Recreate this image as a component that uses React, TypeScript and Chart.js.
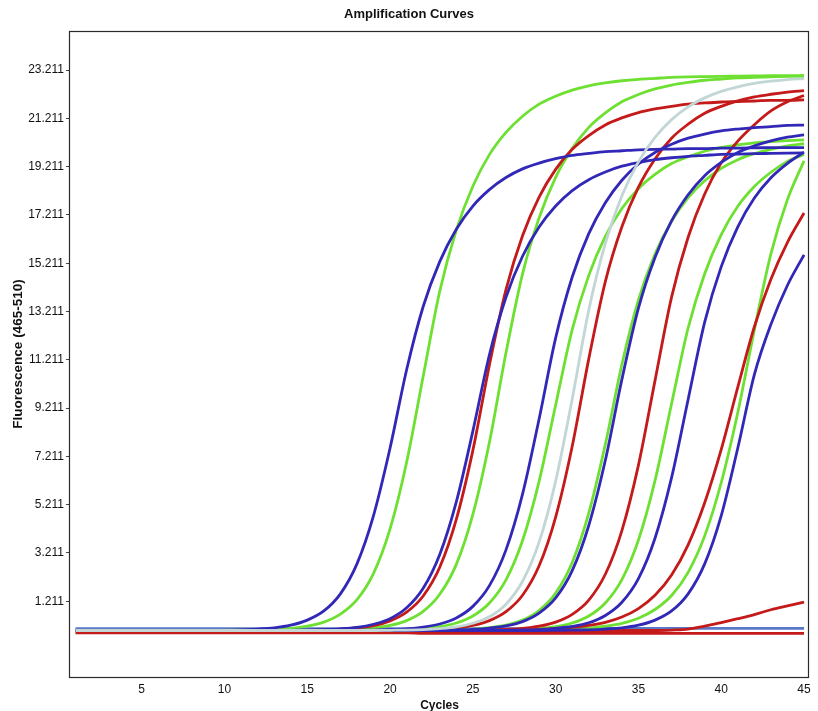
import React, { useEffect, useRef } from 'react';
import { Chart, registerables } from 'chart.js';

Chart.register(...registerables);

// Cycles 1..45
const cycles = [1,2,3,4,5,6,7,8,9,10,11,12,13,14,15,16,17,18,19,20,21,22,23,24,25,26,27,28,29,30,31,32,33,34,35,36,37,38,39,40,41,42,43,44,45];

const xTicks = [5, 10, 15, 20, 25, 30, 35, 40, 45];
const yTicks = [1.211, 3.211, 5.211, 7.211, 9.211, 11.211, 13.211, 15.211, 17.211, 19.211, 21.211, 23.211];

const X_MIN = 0.67;
const X_MAX = 45.3;
const Y_MIN = -1.925;
const Y_MAX = 24.83;

// Fluorescence series (one value per cycle)
const blue1 = [0,0,0,0,0,0,0,0,0,0.01, 0.03,0.06,0.11,0.22,0.43,0.81,1.52,2.76,4.76,7.56, 10.8,13.42,15.28,16.62,17.58,18.26,18.76,19.12,19.36,19.54, 19.68,19.76,19.83,19.87,19.91,19.93,19.94,19.96,19.96,19.98, 19.98,19.99,20.0,20.0,20.0];
const green1 = [0,0,0,0,0,0,0,0,0,0.01, 0.02,0.03,0.05,0.09,0.18,0.35,0.68,1.28,2.37,4.21, 6.97,10.53,14.05,16.58,18.4,19.71,20.63,21.3,21.8,22.13, 22.38,22.56,22.68,22.77,22.83,22.87,22.91,22.93,22.94,22.95, 22.96,22.97,22.98,22.98,22.99];
const blue2 = [0,0,0,0,0,0,0,0,0,0, 0,0,0,0.01,0.02,0.04,0.07,0.13,0.26,0.49, 0.94,1.75,3.15,5.33,8.26,11.42,13.8,15.5,16.71,17.58, 18.22,18.67,18.99,19.23,19.38,19.5,19.58,19.64,19.68,19.72, 19.73,19.75,19.76,19.77,19.78];
const red1 = [0,0,0,0,0,0,0,0,0,0, 0,0,0,0,0.01,0.03,0.06,0.11,0.2,0.4, 0.76,1.43,2.62,4.6,7.46,11.0,14.12,16.35,17.95,19.1, 19.93,20.5,20.94,21.23,21.45,21.6,21.71,21.8,21.85,21.89, 21.91,21.93,21.96,21.96,21.98];
const green2 = [0,0,0,0,0,0,0,0,0,0, 0,0,0,0,0,0.01,0.03,0.06,0.11,0.21, 0.41,0.79,1.5,2.74,4.81,7.8,11.5,14.77,17.09,18.77, 19.96,20.84,21.44,21.9,22.2,22.43,22.59,22.7,22.79,22.84, 22.89,22.91,22.93,22.95,22.95];
const blue3 = [0,0,0,0,0,0,0,0,0,0, 0,0,0,0,0,0,0,0.01,0.02,0.04, 0.07,0.14,0.27,0.52,1.0,1.86,3.34,5.65,8.76,12.12, 14.64,16.44,17.72,18.65,19.32,19.8,20.14,20.39,20.56,20.69, 20.77,20.83,20.87,20.92,20.93];
const green3 = [0,0,0,0,0,0,0,0,0,0, 0,0,0,0,0,0,0,0,0.01,0.02, 0.04,0.08,0.16,0.31,0.6,1.14,2.1,3.73,6.18,9.34, 12.46,14.71,16.32,17.48,18.3,18.89,19.34,19.62,19.85,20.01, 20.11,20.2,20.25,20.29,20.32];
const gray1 = [0,0,0,0,0,0,0,0,0,0, 0,0,0,0,0,0,0,0,0,0.01, 0.02,0.04,0.08,0.15,0.3,0.57,1.09,2.04,3.66,6.19, 9.59,13.27,16.03,18.01,19.41,20.42,21.16,21.69,22.06,22.33, 22.52,22.66,22.75,22.82,22.86];
const red2 = [0,0,0,0,0,0,0,0,0,0, 0,0,0,0,0,0,0,0,0,0, 0.01,0.03,0.06,0.11,0.21,0.41,0.78,1.46,2.68,4.7, 7.63,11.25,14.45,16.72,18.36,19.53,20.39,20.97,21.42,21.71, 21.94,22.1,22.21,22.3,22.36];
const green4 = [0,0,0,0,0,0,0,0,0,0, 0,0,0,0,0,0,0,0,0,0, 0,0.01,0.02,0.03,0.06,0.12,0.22,0.43,0.83,1.55, 2.82,4.86,7.71,11.02,13.69,15.59,16.95,17.93,18.63,19.14, 19.5,19.75,19.93,20.07,20.16];
const blue4 = [0,0,0,0,0,0,0,0,0,0, 0,0,0,0,0,0,0,0,0,0, 0,0,0.01,0.03,0.05,0.1,0.19,0.37,0.72,1.35, 2.48,4.35,7.05,10.4,13.35,15.45,16.97,18.05,18.84,19.39, 19.8,20.07,20.28,20.43,20.53];
const red3 = [0,0,0,0,0,0,0,0,0,0, 0,0,0,0,0,0,0,0,0,0, 0,0,0,0,0.01,0.02,0.05,0.09,0.18,0.35, 0.67,1.26,2.33,4.14,6.85,10.35,13.81,16.29,18.08,19.37, 20.27,20.95,21.52,21.9,22.16];
const green5 = [0,0,0,0,0,0,0,0,0,0, 0,0,0,0,0,0,0,0,0,0, 0,0,0,0,0,0.01,0.02,0.04,0.08,0.16, 0.31,0.6,1.14,2.11,3.75,6.21,9.39,12.53,14.78,16.4, 17.57,18.39,18.98,19.43,19.72];
const blue5 = [0,0,0,0,0,0,0,0,0,0, 0,0,0,0,0,0,0,0,0,0, 0,0,0,0,0,0,0.01,0.02,0.04,0.09, 0.17,0.32,0.62,1.17,2.15,3.82,6.33,9.57,12.77,15.07, 16.72,17.91,18.75,19.35,19.81];
const red4 = [0,0,0,0,0,0,0,0,0,0, 0,0,0,0,0,0,0,0,0,0, 0,0,0,0,0,0.01,0.02,0.03,0.05,0.08, 0.13,0.21,0.34,0.56,0.91,1.46,2.3,3.55,5.29,7.5, 10.08,12.58,14.55,16.08,17.29];
const green6 = [0,0,0,0,0,0,0,0,0,0, 0,0,0,0,0,0,0,0,0,0, 0,0,0,0,0,0,0,0,0.02,0.03, 0.06,0.1,0.18,0.3,0.51,0.87,1.45,2.41,3.92,6.13, 9.03,12.45,15.6,17.85,19.45];
const blue6 = [0,0,0,0,0,0,0,0,0,0, 0,0,0,0,0,0,0,0,0,0, 0,0,0,0,0,0,0,0,0,0.01, 0.02,0.03,0.06,0.11,0.22,0.43,0.81,1.52,2.76,4.76, 7.56,10.6,12.68,14.3,15.56];
const red5 = [0,0,0,0,0,0,0,0,0,0, 0,0,0,0,0,0,0,0,0,0, 0,0,0,0,0,0,0,0,0,0, 0,0,0,0,0,0, 0.02,0.06,0.18,0.33,0.49,0.66,0.86,1.02,1.18];
const ncRed = [-0.1,-0.1,-0.1,-0.1,-0.1,-0.1,-0.1,-0.1,-0.1,-0.1, -0.1,-0.1,-0.1,-0.1,-0.1,-0.1,-0.1,-0.1,-0.1,-0.1, -0.1,-0.12,-0.12,-0.12,-0.12,-0.12,-0.12,-0.12,-0.12,-0.12, -0.12,-0.12,-0.12,-0.12,-0.12,-0.12,-0.12,-0.12,-0.12,-0.12, -0.12,-0.12,-0.12,-0.12,-0.12];
const ncBlue = [0.08,0.08,0.08,0.08,0.08,0.08,0.08,0.08,0.08,0.08, 0.08,0.08,0.08,0.08,0.08,0.08,0.08,0.08,0.08,0.08, 0.08,0.08,0.08,0.08,0.08,0.08,0.08,0.08,0.08,0.08, 0.09,0.09,0.09,0.09,0.09,0.09,0.09,0.09,0.09,0.09, 0.09,0.09,0.09,0.09,0.09];

const BLUE = '#3228b8';
const GREEN = '#6ee032';
const RED = '#c41a1a';
const GRAY = '#c2d6d6';
const NCBLUE = '#5a78c8';

const FONT = "'Liberation Sans', Arial, sans-serif";

// first listed = drawn on top
const seriesList: { values: number[]; color: string }[] = [
  { values: gray1, color: GRAY },
  { values: blue1, color: BLUE },
  { values: blue2, color: BLUE },
  { values: blue3, color: BLUE },
  { values: blue4, color: BLUE },
  { values: blue5, color: BLUE },
  { values: blue6, color: BLUE },
  { values: red1, color: RED },
  { values: red2, color: RED },
  { values: red3, color: RED },
  { values: red4, color: RED },
  { values: red5, color: RED },
  { values: green1, color: GREEN },
  { values: green2, color: GREEN },
  { values: green3, color: GREEN },
  { values: green4, color: GREEN },
  { values: green5, color: GREEN },
  { values: green6, color: GREEN },
  { values: ncBlue, color: NCBLUE },
  { values: ncRed, color: RED },
];

const framePlugin = {
  id: 'frame',
  afterDraw(chart: any) {
    const { ctx, chartArea } = chart;
    const { left, top, right, bottom } = chartArea;
    ctx.save();
    ctx.strokeStyle = '#2a2a2a';
    ctx.lineWidth = 1.2;
    ctx.strokeRect(Math.round(left) - 0.5, Math.round(top) + 0.5, Math.round(right - left), Math.round(bottom - top));
    ctx.restore();
  },
};

export default function App() {
  const canvasRef = useRef<HTMLCanvasElement | null>(null);

  useEffect(() => {
    const canvas = canvasRef.current;
    if (!canvas) return;
    const datasets = seriesList.map((s) => ({
      data: s.values.map((v, i) => ({ x: cycles[i], y: v })),
      borderColor: s.color,
      backgroundColor: s.color,
      borderWidth: 2.8,
      pointRadius: 0,
      fill: false,
      cubicInterpolationMode: 'monotone' as const,
    }));
    const chart = new Chart(canvas, {
      type: 'line',
      data: { datasets },
      options: {
        animation: false,
        responsive: false,
        maintainAspectRatio: false,
        events: [],
        layout: { padding: { left: 9, right: 9, top: 0, bottom: 0 } },
        plugins: {
          legend: { display: false },
          tooltip: { enabled: false },
          title: {
            display: true,
            text: 'Amplification Curves',
            color: '#111',
            font: { family: FONT, size: 13, weight: 'bold' },
            padding: { top: 7, bottom: 8.4 },
          },
        },
        scales: {
          x: {
            type: 'linear',
            min: X_MIN,
            max: X_MAX,
            afterBuildTicks: (s: any) => {
              s.ticks = xTicks.map((v) => ({ value: v }));
            },
            afterFit: (s: any) => {
              s.height = 34;
            },
            grid: { display: false, drawTicks: false },
            border: { display: false },
            ticks: {
              color: '#111',
              font: { family: FONT, size: 12 },
              padding: 5,
              maxRotation: 0,
              autoSkip: false,
              callback: (v: any) => String(v),
            },
            title: {
              display: true,
              text: 'Cycles',
              color: '#111',
              font: { family: FONT, size: 12, weight: 'bold', lineHeight: 1 },
              padding: { top: 0, bottom: -1 },
            },
          },
          y: {
            type: 'linear',
            min: Y_MIN,
            max: Y_MAX,
            afterBuildTicks: (s: any) => {
              s.ticks = yTicks.map((v) => ({ value: v }));
            },
            afterFit: (s: any) => {
              s.width = 61;
            },
            grid: {
              display: true,
              drawOnChartArea: false,
              drawTicks: true,
              tickLength: 4,
              color: '#444',
            },
            border: { display: false },
            ticks: {
              color: '#111',
              font: { family: FONT, size: 12 },
              padding: 2,
              autoSkip: false,
              callback: (v: any) => Number(v).toFixed(3),
            },
            title: {
              display: true,
              text: 'Fluorescence (465-510)',
              color: '#111',
              font: { family: FONT, size: 13.5, weight: 'bold' },
              padding: { top: 1, bottom: 0 },
            },
          },
        },
      },
      plugins: [framePlugin],
    });
    return () => chart.destroy();
  }, []);

  return (
    <div style={{ position: 'absolute', left: 0, top: 0, width: 818, height: 711, background: '#fff' }}>
      <canvas ref={canvasRef} width={818} height={711} style={{ display: 'block' }} />
    </div>
  );
}
